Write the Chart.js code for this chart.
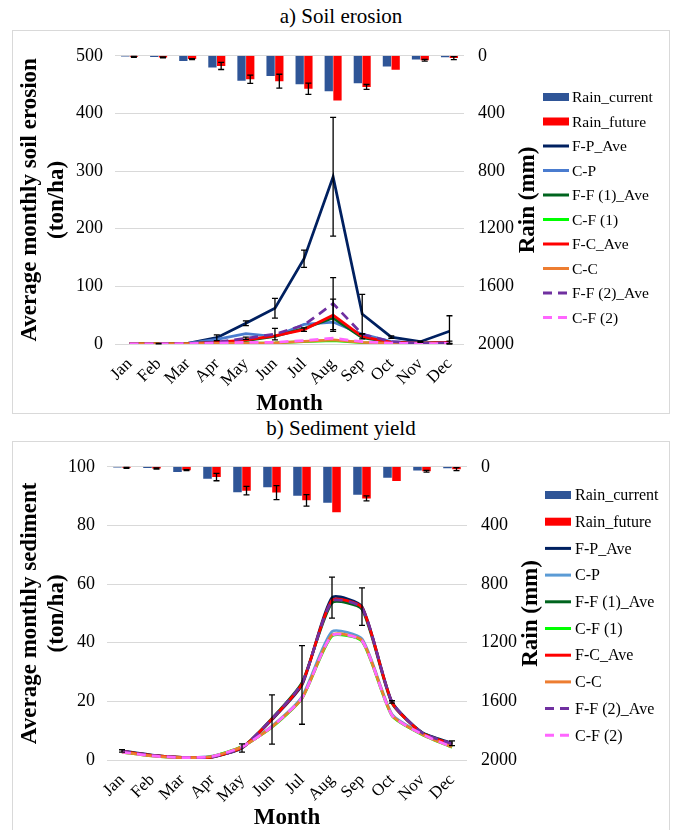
<!DOCTYPE html>
<html lang="en">
<head>
<meta charset="UTF-8">
<title>Soil erosion and sediment yield</title>
<script src="https://cdn.jsdelivr.net/npm/chart.js@4.4.1/dist/chart.umd.min.js"></script>
<style>
  body { margin: 0; background: #fff; font-family: "Liberation Serif", "Times New Roman", serif; }
  .cap { position: absolute; left: 12px; width: 658px; text-align: center; font-size: 21px; line-height: 24px; color: #000; }
  .panel { position: absolute; left: 12px; width: 656px; border: 1px solid #d9d9d9; }
</style>
</head>
<body>

<div class="cap" style="top:4px">a) Soil erosion</div>
<div class="panel" style="top:30px; height:382px"><canvas id="erosionChart"></canvas></div>

<div class="cap" style="top:416px">b) Sediment yield</div>
<div class="panel" style="top:441px; height:390px"><canvas id="sedimentChart"></canvas></div>

<script>
// ---- data ----
const months = ['Jan', 'Feb', 'Mar', 'Apr', 'May', 'Jun', 'Jul', 'Aug', 'Sep', 'Oct', 'Nov', 'Dec'];

// monthly rain (mm), drawn on the reversed right axis
const rainCurrent   = [5, 9, 36, 82, 174, 140, 197, 246, 191, 75, 26, 10];
const rainFuture    = [7, 11, 23, 70, 163, 176, 229, 310, 216, 97, 31, 16];
const rainFutureErr = [3, 4, 3, 25, 29, 48, 39, 0, 17, 0, 6, 10];

const seriesNames = ['F-P_Ave', 'C-P', 'F-F (1)_Ave', 'C-F (1)', 'F-C_Ave', 'C-C', 'F-F (2)_Ave', 'C-F (2)'];

// a) soil erosion (ton/ha)
const erosionFP  = [0.3, 0.6, 1.2, 11, 36, 62, 148, 290, 52, 12, 4, 22];
const erosionCP  = [0.2, 0.4, 1.0, 8, 18, 13, 34, 38, 17, 4, 2, 2];
const erosionFF1 = [0.2, 0.3, 0.8, 3, 6, 13, 27, 45, 11, 3, 1.5, 3];
const erosionCF1 = [0.1, 0.2, 0.4, 1, 1.5, 2, 4, 6, 2.5, 1, 0.5, 0.8];
const erosionFC  = [0.2, 0.3, 0.8, 3, 7, 14, 25, 50, 13, 3, 1.5, 3];
const erosionCC  = [0.1, 0.2, 0.4, 1, 1.5, 2, 4.5, 7, 3, 1, 0.5, 0.8];
const erosionFF2 = [0.2, 0.3, 0.8, 3, 10, 17, 33, 70, 17, 4, 1, 2];
const erosionCF2 = [0.1, 0.2, 0.5, 1.5, 3, 3, 6, 10, 4, 1.5, 0.5, 1];
const erosionFPErr  = [0, 0.5, 0, 5, 4, 17, 15, 103, 34, 2, 1, 27];
const erosionFCErr  = [0, 0, 0, 0, 0, 0, 3, 28, 4, 0, 0, 2];
const erosionFF2Err = [0, 0, 0, 0, 2, 10, 0, 45, 0, 0, 0, 0];

// b) sediment yield (ton/ha)
const sedimentFP  = [3.1, 1.7, 0.9, 1.1, 4.1, 13.8, 25.6, 55.4, 52.3, 19.8, 9.4, 5.7];
const sedimentCP  = [2.8, 1.5, 0.8, 1.3, 4.4, 11.6, 21.6, 43.8, 41.3, 15.6, 9.0, 4.6];
const sedimentFF1 = [3.0, 1.6, 0.9, 1.0, 4.3, 14.2, 26.4, 53.6, 51.4, 19.4, 9.3, 5.4];
const sedimentCF1 = [2.7, 1.4, 0.8, 1.2, 4.6, 11.2, 21.0, 42.3, 40.5, 15.1, 8.7, 4.3];
const sedimentFC  = [3.0, 1.6, 0.9, 1.0, 4.2, 14.0, 26.0, 54.5, 52.0, 19.6, 9.2, 5.4];
const sedimentCC  = [2.7, 1.4, 0.8, 1.2, 4.5, 11.3, 21.1, 42.6, 40.8, 15.3, 8.8, 4.4];
const sedimentFF2 = [3.0, 1.6, 0.9, 1.0, 4.2, 14.1, 26.2, 54.2, 51.9, 19.7, 9.3, 5.5];
const sedimentCF2 = [2.7, 1.4, 0.8, 1.2, 4.5, 11.4, 21.2, 42.5, 40.7, 15.3, 8.8, 4.4];
const sedimentFPErr = [0.4, 0, 0, 0, 1.4, 8.4, 13.4, 7, 6.4, 0.4, 0, 0.8];

// ---- styles ----
const erosionColors  = ['#002060', '#4a7ccf', '#00641e', '#00ff00', '#ff0000', '#ed7d31', '#7030a0', '#ff66ff'];
const sedimentColors = ['#002060', '#5b9bd5', '#00641e', '#00ff00', '#ff0000', '#ed7d31', '#7030a0', '#ff66ff'];
const lineDashes = [[], [], [], [], [], [], [9, 6], [9, 6]];
const serif = '"Liberation Serif", "Times New Roman", serif';

Chart.defaults.font.family = serif;
Chart.defaults.color = '#000';

// black error bars, drawn through the dataset's own y scale
const errorBarPlugin = {
  id: 'errorBars',
  afterDatasetsDraw(chart) {
    const ctx = chart.ctx;
    ctx.save();
    ctx.strokeStyle = '#000';
    ctx.lineWidth = 1.3;
    chart.data.datasets.forEach((ds, i) => {
      if (!ds.errorBars) return;
      const scale = chart.scales[ds.yAxisID];
      chart.getDatasetMeta(i).data.forEach((el, j) => {
        const e = ds.errorBars[j];
        if (!e) return;
        const v = ds.data[j];
        const y1 = scale.getPixelForValue(Math.max(0, v - e));
        const y2 = scale.getPixelForValue(v + e);
        const x = el.x;
        ctx.beginPath();
        ctx.moveTo(x, y1); ctx.lineTo(x, y2);
        ctx.moveTo(x - 3, y1); ctx.lineTo(x + 3, y1);
        ctx.moveTo(x - 3, y2); ctx.lineTo(x + 3, y2);
        ctx.stroke();
      });
    });
    ctx.restore();
  }
};

// right axis title, reading bottom to top like the left one
const rainTitlePlugin = {
  id: 'rainTitle',
  afterDraw(chart, args, opts) {
    const area = chart.chartArea;
    const ctx = chart.ctx;
    ctx.save();
    ctx.font = 'bold 23px ' + serif;
    ctx.fillStyle = '#000';
    ctx.textAlign = 'center';
    ctx.textBaseline = 'middle';
    ctx.translate(opts.x, (area.top + area.bottom) / 2);
    ctx.rotate(-Math.PI / 2);
    ctx.fillText('Rain (mm)', 0, 0);
    ctx.restore();
  }
};

// legend column on the right (the built-in one gets squeezed by the two y axes)
const sideLegendPlugin = {
  id: 'sideLegend',
  afterDraw(chart, args, opts) {
    const ctx = chart.ctx;
    ctx.save();
    ctx.font = opts.font + 'px ' + serif;
    ctx.textBaseline = 'middle';
    chart.data.datasets.forEach((d, i) => {
      const x = opts.x;
      const y = opts.y + i * opts.step;
      if (d.type === 'bar') {
        ctx.fillStyle = d.backgroundColor;
        ctx.fillRect(x, y - 4, 26, 8);
      } else {
        ctx.strokeStyle = d.borderColor;
        ctx.lineWidth = 3;
        ctx.setLineDash(d.borderDash);
        ctx.beginPath();
        ctx.moveTo(x, y);
        ctx.lineTo(x + 26, y);
        ctx.stroke();
        ctx.setLineDash([]);
      }
      ctx.fillStyle = '#000';
      ctx.fillText(d.label, x + opts.gap, y + 1);
    });
    ctx.restore();
  }
};

function buildDatasets(values, errors, colors, tension) {
  const ds = [
    { type: 'bar', label: 'Rain_current', data: rainCurrent, yAxisID: 'rain', order: 100,
      backgroundColor: '#2f5597', categoryPercentage: 0.6, barPercentage: 0.95 },
    { type: 'bar', label: 'Rain_future', data: rainFuture, yAxisID: 'rain', order: 101,
      backgroundColor: '#ff0000', categoryPercentage: 0.6, barPercentage: 0.95, errorBars: rainFutureErr }
  ];
  values.forEach((v, i) => {
    ds.push({
      type: 'line', label: seriesNames[i], data: v, yAxisID: 'y',
      order: values.length - i,   // later series drawn on top
      borderColor: colors[i], backgroundColor: colors[i], borderWidth: 2.75,
      borderDash: lineDashes[i], pointRadius: 0, tension: tension,
      errorBars: errors[i]
    });
  });
  return ds;
}

function makeChart(id, o) {
  return new Chart(document.getElementById(id), {
    data: { labels: months, datasets: o.datasets },
    plugins: [errorBarPlugin, rainTitlePlugin, sideLegendPlugin],
    options: {
      responsive: true,
      maintainAspectRatio: false,
      animation: false,
      layout: { padding: { top: o.padTop, right: 0, bottom: 0, left: 0 } },
      plugins: {
        tooltip: { enabled: false },
        legend: { display: false },
        rainTitle: { x: o.rainTitleX },
        sideLegend: o.legend
      },
      scales: {
        x: {
          grid: { display: false },
          border: { display: false },
          ticks: { autoSkip: false, maxRotation: 45, minRotation: 45, padding: 2, font: { size: 17 } },
          title: { display: true, text: 'Month', font: { size: 23, weight: 'bold', lineHeight: 1 }, padding: { top: 0, bottom: o.monthPad } },
          afterFit(s) { s.height = o.xHeight; }
        },
        y: {
          position: 'left',
          min: 0, max: o.yMax,
          ticks: { stepSize: o.yStep, padding: 12, font: { size: 18 } },
          grid: { color: '#d9d9d9', drawTicks: false },
          border: { display: false },
          title: { display: true, text: o.yTitle, font: { size: 23, weight: 'bold', lineHeight: 1.2 }, padding: { top: 3, bottom: 0 } },
          afterFit(s) { s.width = o.areaLeft; }
        },
        rain: {
          position: 'right',
          reverse: true,
          min: 0, max: 2000,
          ticks: { stepSize: 400, padding: 14, font: { size: 18 }, callback: v => String(v) },
          grid: { display: false, drawTicks: false },
          border: { display: false },
          afterFit(s) { s.width = s.chart.width - o.areaRight; }
        }
      }
    }
  });
}

makeChart('erosionChart', {
  datasets: buildDatasets(
    [erosionFP, erosionCP, erosionFF1, erosionCF1, erosionFC, erosionCC, erosionFF2, erosionCF2],
    [erosionFPErr, null, null, null, erosionFCErr, null, erosionFF2Err, null],
    erosionColors, 0),
  yMax: 500, yStep: 100,
  yTitle: ['Average monthly soil erosion', '(ton/ha)'],
  padTop: 13, xHeight: 69, monthPad: -3,
  areaLeft: 102, areaRight: 451,
  rainTitleX: 515,
  legend: { x: 530, y: 66, step: 24.5, font: 15.5, gap: 29 }
});

makeChart('sedimentChart', {
  datasets: buildDatasets(
    [sedimentFP, sedimentCP, sedimentFF1, sedimentCF1, sedimentFC, sedimentCC, sedimentFF2, sedimentCF2],
    [sedimentFPErr, null, null, null, null, null, null, null],
    sedimentColors, 0.2),
  yMax: 100, yStep: 20,
  yTitle: ['Average monthly sediment', '(ton/ha)'],
  padTop: 15.5, xHeight: 72, monthPad: 2,
  areaLeft: 94, areaRight: 454,
  rainTitleX: 518,
  legend: { x: 532, y: 53, step: 26.7, font: 16, gap: 30 }
});
</script>
</body>
</html>
